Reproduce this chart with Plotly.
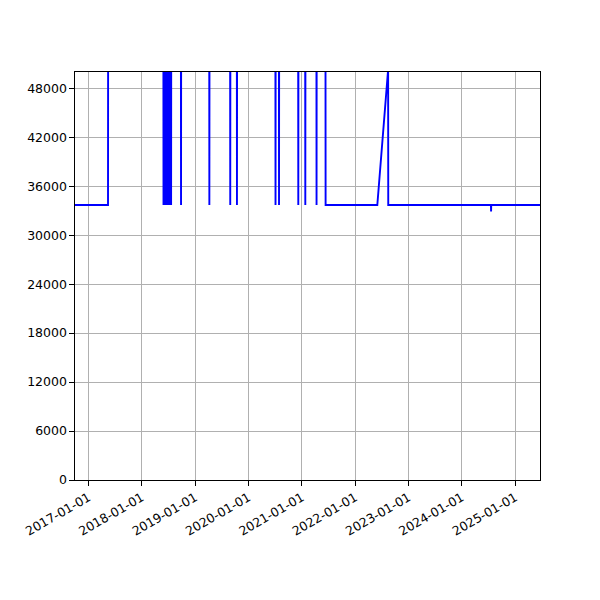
import plotly.graph_objects as go

# Series (date, value) — high values lie above the visible range and are clipped
dates = [
    "2016-09-30", "2017-05-14", "2017-05-15",
    "2018-05-28", "2018-05-29", "2018-05-30",
    "2018-06-06", "2018-06-07", "2018-06-08",
    "2018-06-14", "2018-06-15", "2018-06-16",
    "2018-06-26", "2018-06-27", "2018-06-28",
    "2018-07-04", "2018-07-05", "2018-07-06",
    "2018-07-12", "2018-07-13", "2018-07-14",
    "2018-07-19", "2018-07-20", "2018-07-21",
    "2018-09-25", "2018-09-26", "2018-09-27",
    "2019-04-07", "2019-04-08", "2019-04-09",
    "2019-08-28", "2019-08-29", "2019-08-30",
    "2019-10-13", "2019-10-14", "2019-10-15",
    "2020-07-03", "2020-07-04", "2020-07-05",
    "2020-07-27", "2020-07-28", "2020-07-29",
    "2020-12-06", "2020-12-07", "2020-12-08",
    "2021-01-23", "2021-01-24", "2021-01-25",
    "2021-04-10", "2021-04-11", "2021-04-12",
    "2021-06-11", "2021-06-12",
    "2022-06-01", "2022-08-14", "2022-08-15",
    "2024-07-18", "2024-07-19", "2024-07-20",
    "2025-06-19",
]
values = [
    33700, 33700, 58000,
    58000, 33700, 58000,
    58000, 33700, 58000,
    58000, 33700, 58000,
    58000, 33700, 58000,
    58000, 33700, 58000,
    58000, 33700, 58000,
    58000, 33700, 58000,
    58000, 33700, 58000,
    58000, 33700, 58000,
    58000, 33700, 58000,
    58000, 33700, 58000,
    58000, 33700, 58000,
    58000, 33700, 58000,
    58000, 33700, 58000,
    58000, 33700, 58000,
    58000, 33700, 58000,
    58000, 33700,
    33700, 50300, 33700,
    33700, 32900, 33700,
    33700,
]

x_tick_vals = ["2017-01-01", "2018-01-01", "2019-01-01", "2020-01-01", "2021-01-01",
               "2022-01-01", "2023-01-01", "2024-01-01", "2025-01-01"]
x_tick_text = x_tick_vals
y_tick_vals = [0, 6000, 12000, 18000, 24000, 30000, 36000, 42000, 48000]
y_tick_text = [str(v) for v in y_tick_vals]

fig = go.Figure()
fig.add_trace(go.Scatter(x=dates, y=values, mode="lines",
                         line=dict(color="#0000ff", width=1.9), showlegend=False))

axis_common = dict(showline=True, linecolor="black", linewidth=1.1, mirror=True,
                   ticks="outside", ticklen=4.5, tickcolor="black", tickwidth=1.1,
                   showgrid=True, gridcolor="#b0b0b0", gridwidth=1, zeroline=False,
                   tickfont=dict(family="DejaVu Sans", size=12.5, color="black"))

fig.update_layout(
    width=600, height=600,
    margin=dict(l=67, r=68, t=64, b=128),
    paper_bgcolor="white", plot_bgcolor="white",
    xaxis=dict(range=["2016-09-30", "2025-06-19"], tickmode="array",
               tickvals=x_tick_vals, ticktext=x_tick_text, tickangle=-30, **axis_common),
    yaxis=dict(range=[0, 50000], tickmode="array", tickvals=y_tick_vals,
               ticktext=y_tick_text, **axis_common),
)

fig.write_html("out.html")
